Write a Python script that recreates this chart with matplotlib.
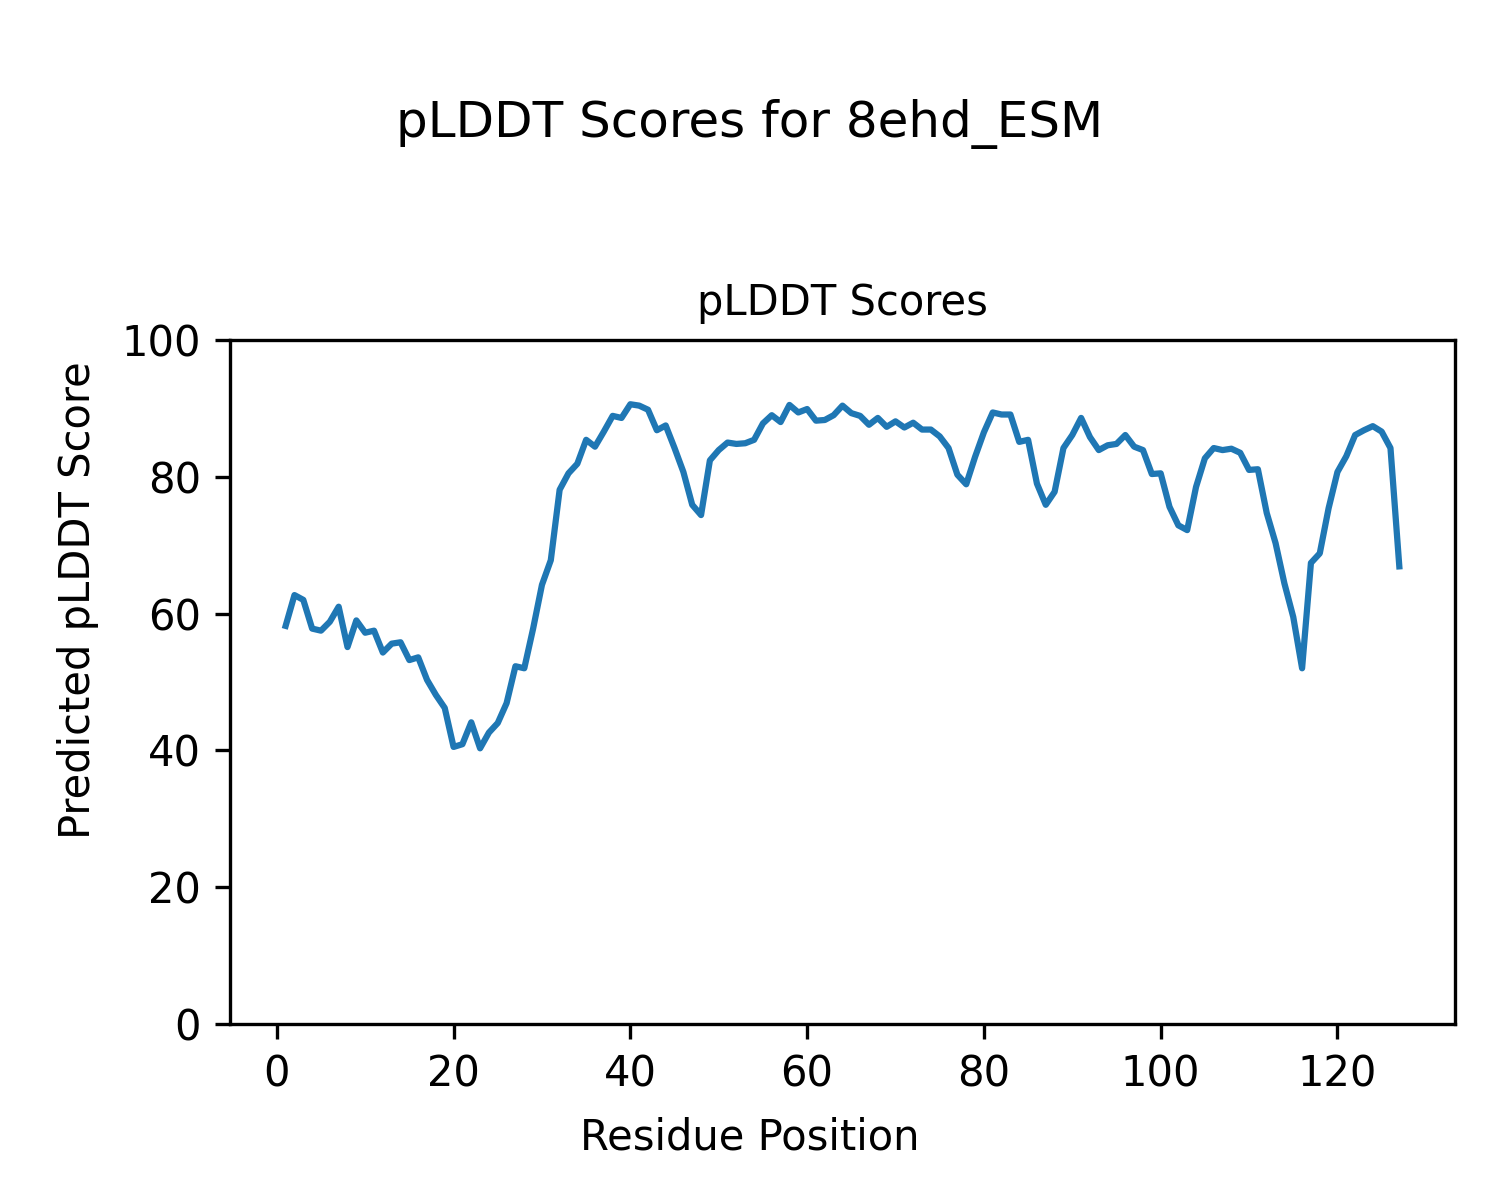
"""
pLDDT per-residue plot for 8ehd_ESM.
"""

import matplotlib
matplotlib.use("Agg")
import matplotlib.pyplot as plt
import numpy as np

# ── Data ──────────────────────────────────────────────────────────────────────
protein = "8ehd_ESM"

residues = np.arange(1, 128)

plddt = [
    58.2, 62.7, 62.0, 57.8, 57.5, 58.8, 61.0, 55.1, 59.0, 57.2,   # 1-10
    57.5, 54.3, 55.6, 55.8, 53.2, 53.6, 50.3, 48.1, 46.2, 40.5,   # 11-20
    40.9, 44.1, 40.3, 42.6, 44.0, 46.9, 52.3, 52.0, 57.8, 64.2,   # 21-30
    67.8, 78.1, 80.5, 81.9, 85.4, 84.4, 86.6, 88.9, 88.6, 90.6,   # 31-40
    90.4, 89.8, 86.8, 87.5, 84.2, 80.7, 75.9, 74.4, 82.4, 83.9,   # 41-50
    85.0, 84.8, 84.9, 85.4, 87.8, 89.0, 88.0, 90.5, 89.4, 89.9,   # 51-60
    88.2, 88.3, 89.0, 90.4, 89.3, 88.9, 87.6, 88.6, 87.3, 88.1,   # 61-70
    87.2, 87.9, 86.9, 86.9, 85.9, 84.2, 80.3, 78.9, 82.9, 86.5,   # 71-80
    89.4, 89.1, 89.1, 85.1, 85.4, 79.0, 75.9, 77.8, 84.2, 86.1,   # 81-90
    88.6, 85.8, 83.9, 84.6, 84.8, 86.1, 84.4, 83.9, 80.4, 80.5,   # 91-100
    75.6, 72.9, 72.2, 78.5, 82.7, 84.2, 83.9, 84.1, 83.5, 81.0,   # 101-110
    81.1, 74.7, 70.3, 64.4, 59.5, 52.0, 67.4, 68.8, 75.4, 80.7,   # 111-120
    83.0, 86.1, 86.8, 87.4, 86.6, 84.2, 66.9,                     # 121-127
]

# ── Figure ────────────────────────────────────────────────────────────────────
fig = plt.figure(figsize=(5, 4), dpi=300)
ax = fig.add_axes([0.1533, 0.1467, 0.9700 - 0.1533, 0.7167 - 0.1467])

ax.plot(residues, plddt, color="#1f77b4", linewidth=1.5)
ax.set_ylim(0, 100)

ax.set_title("pLDDT Scores", fontsize=10)

# figure-level axis labels (centred on the figure, not the axes)
fig.text(0.5, 0.0517, "Residue Position", fontsize=10, ha="center", va="center")
fig.text(0.052, 0.5, "Predicted pLDDT Score", fontsize=10, rotation=90,
         ha="center", va="center")

fig.suptitle(f"pLDDT Scores for {protein}", fontsize=12, y=0.886, va="baseline")

fig.savefig("out.png", dpi=300)
plt.close(fig)
